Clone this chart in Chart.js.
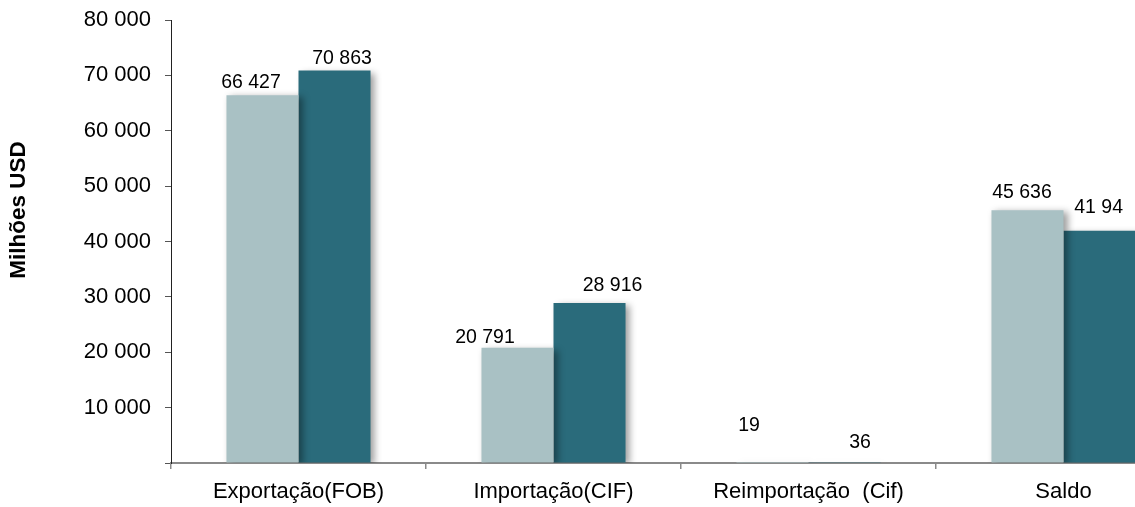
<!DOCTYPE html>
<html>
<head>
<meta charset="utf-8">
<script src="https://cdn.jsdelivr.net/npm/chart.js@4.4.1/dist/chart.umd.min.js"></script>
<style>
  html, body { margin: 0; padding: 0; background: #ffffff; overflow: hidden; width: 1135px; height: 507px; }
  #wrap { position: relative; width: 1200px; height: 507px; }
</style>
</head>
<body>
<div id="wrap"><canvas id="c"></canvas></div>
<script>
// ---- data ----
const categories = ["Exportação(FOB)", "Importação(CIF)", "Reimportação  (Cif)", "Saldo"];
const seriesA = [66427, 20791, 19, 45636];   // light bars
const seriesB = [70863, 28916, 36, 41947];   // dark bars
const yTicks = [0, 10000, 20000, 30000, 40000, 50000, 60000, 70000, 80000];
const yTitle = "Milhões USD";

function fmt(v) {
  return String(v).replace(/\B(?=(\d{3})+(?!\d))/g, ' ');
}

const shadowPlugin = {
  id: 'barShadow',
  beforeDatasetsDraw(chart) {
    const ctx = chart.ctx;
    ctx.save();
    ctx.shadowColor = 'rgba(0,0,0,0.38)';
    ctx.shadowBlur = 7;
    ctx.shadowOffsetX = 4;
    ctx.shadowOffsetY = 2;
  },
  afterDatasetsDraw(chart) {
    chart.ctx.restore();
  }
};

const labelPlugin = {
  id: 'valueLabels',
  afterDatasetsDraw(chart, args, opts) {
    const ctx = chart.ctx;
    ctx.save();
    // labels are clipped by the original text frame near the right edge
    ctx.beginPath();
    ctx.rect(0, 0, opts.clipRight, chart.height);
    ctx.clip();
    ctx.font = '19.5px "Liberation Sans", Arial, sans-serif';
    ctx.fillStyle = '#000';
    ctx.textAlign = 'center';
    ctx.textBaseline = 'middle';
    chart.data.datasets.forEach((ds, di) => {
      const meta = chart.getDatasetMeta(di);
      meta.data.forEach((bar, i) => {
        const dx = opts.dx[di][i], dy = opts.dy[di][i];
        ctx.fillText(fmt(ds.data[i]), bar.x + dx, bar.y + dy);
      });
    });
    ctx.restore();
  }
};

const titlePlugin = {
  id: 'yTitle',
  afterDraw(chart) {
    const ctx = chart.ctx;
    ctx.save();
    ctx.translate(19, 210);
    ctx.rotate(-Math.PI / 2);
    ctx.font = 'bold 22.5px "Liberation Sans", Arial, sans-serif';
    ctx.fillStyle = '#000';
    ctx.textAlign = 'center';
    ctx.textBaseline = 'middle';
    ctx.fillText(yTitle, 0, 0);
    ctx.restore();
  }
};

new Chart(document.getElementById('c'), {
  type: 'bar',
  data: {
    labels: categories,
    datasets: [
      { data: seriesA, backgroundColor: '#A9C1C4', borderWidth: 0 },
      { data: seriesB, backgroundColor: '#2A6B7B', borderWidth: 0 }
    ]
  },
  options: {
    responsive: true,
    maintainAspectRatio: false,
    devicePixelRatio: 1,
    animation: false,
    layout: { padding: { left: 0, right: 9, top: 20, bottom: 0 } },
    datasets: { bar: { categoryPercentage: 0.565, barPercentage: 1.0 } },
    plugins: {
      legend: { display: false },
      tooltip: { enabled: false },
      valueLabels: {
        clipRight: 1123,
        dx: [[-11.5, -32.5, -23.5, -5.5], [7.5, 23, 15.5, 4.5]],
        dy: [[-12.7, -10, -37, -18], [-11.6, -17, -20, -23]]
      }
    },
    scales: {
      x: {
        grid: { display: true, drawOnChartArea: false, drawTicks: true, tickLength: 6, color: '#8a8a8a', lineWidth: 1.5, offset: true },
        border: { display: true, color: '#8a8a8a', width: 2 },
        ticks: { color: '#000', font: { family: '"Liberation Sans", Arial, sans-serif', size: 22 }, padding: 10, maxRotation: 0, autoSkip: false },
        afterFit(scale) { scale.height = 44; scale.paddingLeft = 0; scale.paddingRight = 0; }
      },
      y: {
        min: 0, max: 80000,
        afterBuildTicks(scale) { scale.ticks = yTicks.map(v => ({ value: v })); },
        grid: { display: true, drawOnChartArea: false, drawTicks: true, tickLength: 6, color: '#555' },
        border: { display: true, color: '#222', width: 1 },
        ticks: {
          color: '#000',
          font: { family: '"Liberation Sans", Arial, sans-serif', size: 22 },
          padding: 14,
          callback: (v) => v === 0 ? '' : fmt(v)
        },
        afterFit(scale) { scale.width = 171; scale.paddingTop = 0; scale.paddingBottom = 0; }
      }
    }
  },
  plugins: [shadowPlugin, labelPlugin, titlePlugin]
});
</script>
</body>
</html>
